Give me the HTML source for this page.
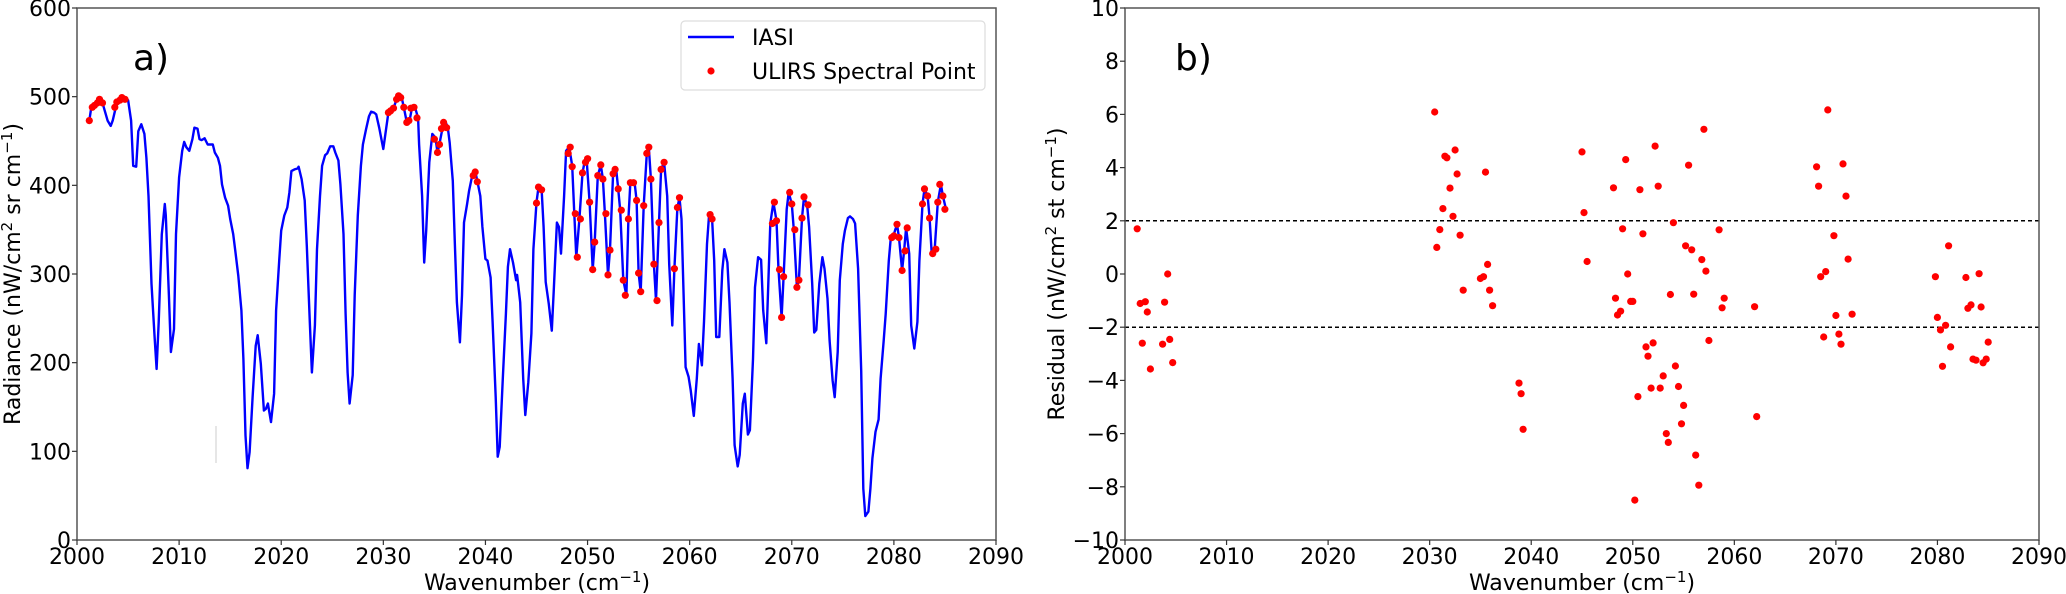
<!DOCTYPE html>
<html><head><meta charset="utf-8"><style>
html,body{margin:0;padding:0;background:#fff;}
svg{display:block;font-family:"DejaVu Sans","Liberation Sans",sans-serif;}
</style></head><body>
<svg id="chart" width="2066" height="594" viewBox="0 0 2066 594" xmlns="http://www.w3.org/2000/svg">
<rect x="0" y="0" width="2066" height="594" fill="#fff"/>
<g id="left"></g>
<g id="right"></g>
</svg>
<script>
const iasiWn=[2001.2,2001.4,2002.3,2002.5,2003.0,2003.3,2003.5,2003.8,2004.1,2004.5,2005.0,2005.3,2005.5,2005.8,2006.0,2006.3,2006.6,2006.8,2007.0,2007.3,2007.6,2007.8,2008.0,2008.3,2008.6,2008.7,2009.0,2009.2,2009.5,2009.7,2010.0,2010.3,2010.5,2010.7,2011.0,2011.3,2011.5,2011.8,2012.0,2012.2,2012.5,2012.8,2013.0,2013.3,2013.5,2013.8,2014.0,2014.2,2014.5,2014.8,2015.0,2015.3,2015.5,2015.8,2016.1,2016.3,2016.5,2016.7,2016.9,2017.2,2017.5,2017.7,2018.0,2018.3,2018.5,2018.7,2019.0,2019.3,2019.5,2019.8,2020.0,2020.3,2020.6,2020.8,2021.0,2021.3,2021.6,2021.7,2022.0,2022.3,2022.5,2022.8,2023.0,2023.3,2023.5,2023.8,2024.0,2024.3,2024.5,2024.8,2025.1,2025.3,2025.6,2025.8,2026.1,2026.3,2026.5,2026.7,2027.0,2027.2,2027.5,2027.8,2028.0,2028.3,2028.6,2028.8,2029.1,2029.3,2029.6,2030.0,2030.2,2030.5,2030.7,2031.0,2031.3,2031.6,2031.8,2032.0,2032.3,2032.6,2032.8,2033.1,2033.4,2033.5,2033.8,2034.0,2034.2,2034.5,2034.8,2035.1,2035.3,2035.5,2035.8,2036.1,2036.3,2036.5,2036.8,2037.0,2037.2,2037.5,2037.7,2037.9,2038.2,2038.4,2038.7,2039.0,2039.2,2039.5,2039.7,2040.0,2040.2,2040.5,2040.7,2041.0,2041.2,2041.4,2041.7,2042.0,2042.2,2042.4,2042.7,2043.0,2043.1,2043.4,2043.7,2043.9,2044.2,2044.5,2044.7,2045.0,2045.2,2045.5,2045.7,2045.9,2046.2,2046.5,2046.7,2047.0,2047.2,2047.4,2047.7,2047.9,2048.2,2048.5,2048.7,2048.9,2049.2,2049.5,2049.7,2049.9,2050.2,2050.5,2050.7,2051.0,2051.3,2051.5,2051.7,2052.0,2052.2,2052.5,2052.8,2053.0,2053.2,2053.5,2053.8,2054.0,2054.2,2054.6,2054.8,2055.0,2055.2,2055.5,2055.8,2056.0,2056.2,2056.5,2056.7,2057.0,2057.2,2057.5,2057.8,2058.0,2058.3,2058.5,2058.8,2059.0,2059.2,2059.6,2059.9,2060.1,2060.4,2060.7,2060.9,2061.2,2061.4,2061.7,2061.9,2062.2,2062.4,2062.6,2062.9,2063.2,2063.4,2063.7,2063.9,2064.2,2064.4,2064.7,2064.9,2065.2,2065.4,2065.7,2065.9,2066.2,2066.4,2066.7,2067.0,2067.2,2067.5,2067.7,2067.9,2068.2,2068.5,2068.7,2069.0,2069.2,2069.5,2069.7,2070.0,2070.2,2070.5,2070.7,2071.0,2071.2,2071.5,2071.7,2072.0,2072.2,2072.4,2072.7,2073.0,2073.2,2073.5,2073.7,2074.0,2074.2,2074.5,2074.7,2075.0,2075.2,2075.5,2075.7,2076.0,2076.2,2076.5,2076.8,2077.0,2077.2,2077.5,2077.7,2077.9,2078.2,2078.5,2078.7,2079.0,2079.2,2079.5,2079.7,2080.0,2080.3,2080.5,2080.8,2081.0,2081.2,2081.5,2081.7,2082.0,2082.3,2082.5,2082.8,2083.0,2083.3,2083.5,2083.7,2084.0,2084.3,2084.6,2084.8,2085.1];
const iasiRad=[473,488,498,493,473,467,473,488,497,500,496,473,422,421,461,469,458,431,388,289,229,193,246,345,379,366,276,212,238,345,409,439,449,443,439,452,465,464,452,451,453,446,446,446,437,431,422,401,386,377,362,345,326,298,259,204,118,81,99,161,219,231,199,146,148,154,133,165,259,315,349,366,375,392,416,418,419,421,407,383,332,246,189,242,328,388,422,434,436,444,444,437,428,401,345,255,189,154,186,276,366,422,446,463,478,483,482,480,465,441,458,482,485,487,497,503,499,488,471,475,487,488,476,446,388,313,349,426,458,454,437,447,465,471,466,448,405,336,268,223,276,358,379,394,411,416,405,388,353,317,315,296,246,161,94,105,182,255,308,328,313,293,299,268,182,141,178,233,328,381,398,396,353,291,266,236,285,358,353,323,388,439,443,422,368,319,362,414,426,431,381,305,336,411,423,407,368,299,328,413,419,396,372,293,276,362,404,404,383,301,280,377,436,443,407,311,270,358,418,426,388,311,242,306,375,386,362,195,184,169,140,182,221,197,246,334,367,362,315,229,229,304,328,313,268,182,107,83,96,154,165,119,124,204,285,319,316,259,222,289,357,381,360,305,251,297,373,392,379,350,285,293,363,387,378,353,289,234,237,289,319,306,272,225,180,161,212,293,334,349,363,365,362,357,306,191,58,27,32,58,92,122,136,182,225,255,315,341,345,356,341,304,326,352,323,242,216,246,315,379,396,388,363,323,328,381,401,388,373];
const ulirsWn=[2001.2,2001.5,2001.7,2002.0,2002.2,2002.5,2003.7,2003.9,2004.2,2004.4,2004.7,2030.5,2030.7,2031.0,2031.3,2031.5,2031.7,2032.0,2032.3,2032.5,2032.7,2033.0,2033.3,2035.0,2035.3,2035.5,2035.7,2035.9,2036.2,2038.8,2039.0,2039.2,2045.0,2045.2,2045.5,2048.1,2048.3,2048.5,2048.8,2049.0,2049.3,2049.5,2049.8,2050.0,2050.2,2050.5,2050.7,2051.0,2051.3,2051.5,2051.8,2052.0,2052.2,2052.5,2052.7,2053.0,2053.3,2053.5,2053.7,2054.0,2054.2,2054.5,2054.8,2055.0,2055.2,2055.5,2055.8,2056.0,2056.2,2056.5,2056.8,2057.0,2057.2,2057.5,2058.5,2058.8,2059.0,2062.0,2062.2,2068.1,2068.3,2068.5,2068.8,2069.0,2069.2,2069.8,2070.0,2070.3,2070.5,2070.7,2071.0,2071.2,2071.6,2079.8,2080.0,2080.3,2080.5,2080.8,2081.1,2081.3,2082.8,2083.0,2083.3,2083.5,2083.8,2084.1,2084.3,2084.5,2084.8,2085.0];
const ulirsRad=[473,488,490,493,497,493,488,494,496,499,497,482,484,487,497,501,499,488,471,473,487,488,476,452,437,446,464,471,465,411,415,404,380,398,395,436,443,421,368,319,362,414,426,430,381,305,336,411,423,407,368,299,327,413,418,396,372,293,276,362,403,403,383,301,280,377,436,443,407,311,270,358,418,426,306,375,386,367,362,357,381,360,305,251,297,392,379,350,285,293,363,387,378,341,343,356,341,304,326,352,379,396,388,363,323,328,381,401,388,373];
const residuals=[1.70,-1.11,-2.6,-1.04,-1.43,-3.57,-2.64,-1.06,0.0,-2.46,-3.33,6.09,1.0,1.67,2.46,4.43,4.37,3.23,2.17,4.66,3.76,1.46,-0.61,-0.17,-0.1,3.83,0.36,-0.61,-1.19,-4.1,-4.5,-5.84,4.59,2.31,0.47,3.24,-0.91,-1.54,-1.4,1.7,4.3,0.0,-1.03,-1.03,-8.5,-4.61,3.17,1.51,-2.74,-3.09,-4.29,-2.59,4.81,3.3,-4.29,-3.83,-6.0,-6.33,-0.77,1.93,-3.46,-4.23,-5.63,-4.94,1.06,4.09,0.91,-0.76,-6.81,-7.94,0.54,5.44,0.11,-2.5,1.66,-1.27,-0.91,-1.23,-5.36,4.03,3.3,-0.1,-2.37,0.09,6.17,1.44,-1.56,-2.26,-2.64,4.14,2.93,0.56,-1.51,-0.1,-1.63,-2.1,-3.47,-1.93,1.06,-2.74,-0.13,-1.29,-1.16,-3.2,-3.24,0.01,-1.24,-3.34,-3.2,-2.56];
const xTicks=[2000,2010,2020,2030,2040,2050,2060,2070,2080,2090];
const radTicks=[0,100,200,300,400,500,600];
const resTicks=[-10,-8,-6,-4,-2,0,2,4,6,8,10];
const thresholds=[2,-2];

const NS='http://www.w3.org/2000/svg';
function mk(parent,tag,attrs,text){const e=document.createElementNS(NS,tag);for(const k in attrs)e.setAttribute(k,attrs[k]);if(text!==undefined)e.textContent=text;parent.appendChild(e);return e;}
const plotTop=8,plotBot=540;
const L={x0:77,x1:996},R={x0:1125,x1:2039};
const lx=v=>L.x0+(v-2000)/90*(L.x1-L.x0);
const ly=v=>plotBot-(v/600)*(plotBot-plotTop);
const rx=v=>R.x0+(v-2000)/90*(R.x1-R.x0);
const ry=v=>plotBot-((v+10)/20)*(plotBot-plotTop);
const FS=22;

const gl=document.getElementById('left'), gr=document.getElementById('right');

let d='';iasiWn.forEach((w,i)=>{d+=(i?'L':'M')+lx(w).toFixed(1)+','+ly(iasiRad[i]).toFixed(1);});
const line=mk(gl,'path',{d:d,fill:'none',stroke:'#0000ff','stroke-width':2.4,'stroke-linejoin':'round'});


const ul=mk(gl,'g',{});


ulirsWn.forEach((w,i)=>{const c=mk(ul,'circle',{cx:lx(w).toFixed(1),cy:ly(ulirsRad[i]).toFixed(1),r:3.6,fill:'#ff0000'});

});
mk(gl,'line',{x1:216,y1:426,x2:216,y2:463,stroke:'#ccc','stroke-width':1});
const lf=mk(gl,'rect',{x:L.x0,y:plotTop,width:L.x1-L.x0,height:plotBot-plotTop,fill:'none',stroke:'#555','stroke-width':1.5});


xTicks.forEach(t=>{mk(gl,'line',{x1:lx(t),y1:plotBot,x2:lx(t),y2:plotBot+5,stroke:'#333','stroke-width':1.2});
const tx=mk(gl,'text',{x:lx(t),y:564,'font-size':FS,'text-anchor':'middle',fill:'#000'},String(t));

});
radTicks.forEach(t=>{mk(gl,'line',{x1:L.x0-5,y1:ly(t),x2:L.x0,y2:ly(t),stroke:'#333','stroke-width':1.2});
const tx=mk(gl,'text',{x:71,y:ly(t)+8,'font-size':FS,'text-anchor':'end',fill:'#000'},String(t));

});
function supText(g,attrs,parts){const t=mk(g,'text',attrs);parts.forEach(p=>{mk(t,'tspan',p.sup?{dy:-8,'font-size':15}:{dy:p.down?8:0},p.t);});return t;}
const lxl=supText(gl,{x:537,y:590,'font-size':FS,'text-anchor':'middle',fill:'#000'},[{t:'Wavenumber (cm'},{t:'\u22121',sup:1},{t:')',down:1}]);


const lyl=supText(gl,{x:0,y:0,'font-size':FS,'text-anchor':'middle',fill:'#000',transform:'translate(20,274) rotate(-90)'},[{t:'Radiance (nW/cm'},{t:'2',sup:1},{t:' sr cm',down:1},{t:'\u22121',sup:1},{t:')',down:1}]);


const pa=mk(gl,'text',{x:133,y:70,'font-size':36,fill:'#000'},'a)');


const lg=mk(gl,'g',{});


mk(lg,'rect',{x:681,y:21,width:304,height:69,rx:4,fill:'#fff',stroke:'#ddd','stroke-width':1.2});
mk(lg,'line',{x1:688,y1:37,x2:734,y2:37,stroke:'#0000ff','stroke-width':2.4});
mk(lg,'circle',{cx:711,cy:71,r:3.6,fill:'#ff0000'});
const le1=mk(lg,'text',{x:752,y:45,'font-size':FS,fill:'#000'},'IASI');


const le2=mk(lg,'text',{x:752,y:79,'font-size':FS,fill:'#000'},'ULIRS Spectral Point');



thresholds.forEach(t=>{const hl=mk(gr,'line',{x1:R.x0,y1:ry(t),x2:R.x1,y2:ry(t),stroke:'#000','stroke-width':1.5,'stroke-dasharray':'4,3'});

});
const rp=mk(gr,'g',{});


ulirsWn.forEach((w,i)=>{const c=mk(rp,'circle',{cx:rx(w).toFixed(1),cy:ry(residuals[i]).toFixed(1),r:3.6,fill:'#ff0000'});

});
const rf=mk(gr,'rect',{x:R.x0,y:plotTop,width:R.x1-R.x0,height:plotBot-plotTop,fill:'none',stroke:'#555','stroke-width':1.5});


xTicks.forEach(t=>{mk(gr,'line',{x1:rx(t),y1:plotBot,x2:rx(t),y2:plotBot+5,stroke:'#333','stroke-width':1.2});
const tx=mk(gr,'text',{x:rx(t),y:564,'font-size':FS,'text-anchor':'middle',fill:'#000'},String(t));

});
resTicks.forEach(t=>{mk(gr,'line',{x1:R.x0-5,y1:ry(t),x2:R.x0,y2:ry(t),stroke:'#333','stroke-width':1.2});
const tx=mk(gr,'text',{x:1119,y:ry(t)+8,'font-size':FS,'text-anchor':'end',fill:'#000'},String(t).replace('-','\u2212'));

});
const rxl=supText(gr,{x:1582,y:590,'font-size':FS,'text-anchor':'middle',fill:'#000'},[{t:'Wavenumber (cm'},{t:'\u22121',sup:1},{t:')',down:1}]);


const ryl=supText(gr,{x:0,y:0,'font-size':FS,'text-anchor':'middle',fill:'#000',transform:'translate(1064,274) rotate(-90)'},[{t:'Residual (nW/cm'},{t:'2',sup:1},{t:' st cm',down:1},{t:'\u22121',sup:1},{t:')',down:1}]);


const pb=mk(gr,'text',{x:1175,y:70,'font-size':36,fill:'#000'},'b)');


</script>
</body></html>
